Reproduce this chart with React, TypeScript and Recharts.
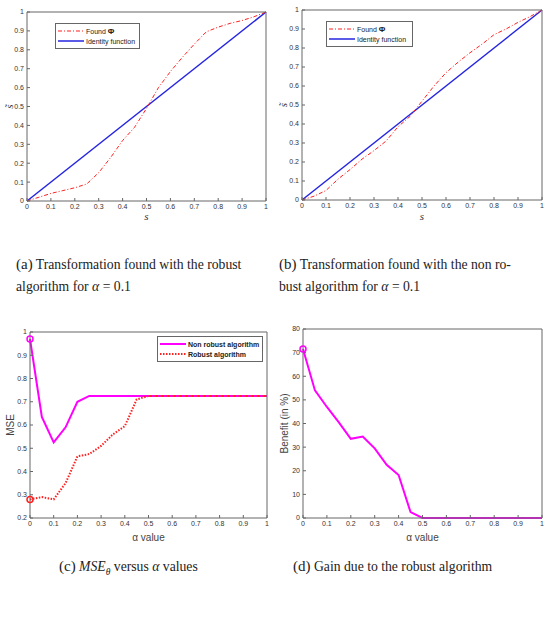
import { LineChart, Line, XAxis, YAxis } from 'recharts';

// shared tick values
const unitTicks = [0, 0.1, 0.2, 0.3, 0.4, 0.5, 0.6, 0.7, 0.8, 0.9, 1];
const mseTicks = [0.2, 0.3, 0.4, 0.5, 0.6, 0.7, 0.8, 0.9, 1];
const benefitTicks = [0, 10, 20, 30, 40, 50, 60, 70, 80];

// (a) / (b) transformation curves, s sampled every 0.05
const sValues = [0, 0.05, 0.1, 0.15, 0.2, 0.25, 0.3, 0.35, 0.4, 0.45, 0.5, 0.55, 0.6, 0.65, 0.7, 0.75, 0.8, 0.85, 0.9, 0.95, 1];
const foundPhiRobust = [0, 0.02, 0.04, 0.055, 0.07, 0.09, 0.15, 0.23, 0.32, 0.39, 0.49, 0.6, 0.685, 0.76, 0.83, 0.895, 0.92, 0.94, 0.955, 0.975, 1];
const foundPhiNonRobust = [0, 0.02, 0.05, 0.11, 0.16, 0.215, 0.26, 0.31, 0.385, 0.44, 0.52, 0.6, 0.67, 0.725, 0.775, 0.82, 0.87, 0.9, 0.935, 0.965, 1];
const identityS = [0, 1];

// (c) / (d) versus alpha
const alphaValues = [0, 0.05, 0.1, 0.15, 0.2, 0.25, 0.3, 0.35, 0.4, 0.45, 0.5, 0.55, 0.6, 0.65, 0.7, 0.75, 0.8, 0.85, 0.9, 0.95, 1];
const mseNonRobust = [0.97, 0.635, 0.525, 0.59, 0.7, 0.725, 0.725, 0.725, 0.725, 0.725, 0.725, 0.725, 0.725, 0.725, 0.725, 0.725, 0.725, 0.725, 0.725, 0.725, 0.725];
const mseRobust = [0.28, 0.29, 0.28, 0.35, 0.465, 0.475, 0.51, 0.56, 0.595, 0.71, 0.725, 0.725, 0.725, 0.725, 0.725, 0.725, 0.725, 0.725, 0.725, 0.725, 0.725];
const benefit = [71.5, 54, 47, 40.5, 33.5, 34.5, 29.5, 22.5, 18.2, 2.5, 0, 0, 0, 0, 0, 0, 0, 0, 0, 0, 0];

const toPoints = (xs: number[], ys: number[]) => xs.map((x, i) => ({ x, y: ys[i] }));

const phiA = toPoints(sValues, foundPhiRobust);
const phiB = toPoints(sValues, foundPhiNonRobust);
const identity = toPoints(identityS, identityS);
const nonRobustPts = toPoints(alphaValues, mseNonRobust);
const robustPts = toPoints(alphaValues, mseRobust);
const benefitPts = toPoints(alphaValues, benefit);

const SANS = '"Liberation Sans", Arial, sans-serif';
const SERIF = '"Liberation Serif", "Times New Roman", serif';
const FRAME = '#666';
const TICK = { fontSize: 7, fill: '#333', fontFamily: SANS };
const RED = '#ff2020';
const BLUE = '#2424e0';
const MAGENTA = '#ff00ff';

const fmt = (v: number) => String(v);

// matlab style box: ticks pointing inward on all four sides
function frame(yDomain: [number, number], yTicks: number[], yWidth: number, xHeight: number, xLabel: any, yLabel: any) {
  return [
    <XAxis
      key="xb"
      type="number"
      dataKey="x"
      domain={[0, 1]}
      ticks={unitTicks}
      tickFormatter={fmt}
      interval={0}
      tick={TICK}
      tickSize={-3}
      tickMargin={6}
      height={xHeight}
      stroke={FRAME}
      label={xLabel}
    />,
    <XAxis
      key="xt"
      xAxisId="top"
      orientation="top"
      type="number"
      dataKey="x"
      domain={[0, 1]}
      ticks={unitTicks}
      interval={0}
      tick={false}
      tickSize={-3}
      height={1}
      stroke={FRAME}
    />,
    <YAxis
      key="yl"
      type="number"
      domain={yDomain}
      ticks={yTicks}
      tickFormatter={fmt}
      interval={0}
      tick={TICK}
      tickSize={-3}
      tickMargin={6}
      width={yWidth}
      stroke={FRAME}
      label={yLabel}
    />,
    <YAxis
      key="yr"
      yAxisId="right"
      orientation="right"
      type="number"
      domain={yDomain}
      ticks={yTicks}
      interval={0}
      tick={false}
      tickSize={-3}
      width={1}
      stroke={FRAME}
    />,
  ];
}

const firstDot = (color: string) => (props: any) =>
  props.index === 0 ? (
    <circle key="d0" cx={props.cx} cy={props.cy} r={3} fill="none" stroke={color} strokeWidth={1.5} />
  ) : (
    <g key={`d${props.index}`} />
  );

function LegendBox({ left, top, width, items, bold }: { left: number; top: number; width: number; items: { label: any; color: string; dash?: string; w: number }[]; bold?: boolean }) {
  return (
    <div
      style={{
        position: 'absolute',
        left,
        top,
        width,
        border: `1px solid ${FRAME}`,
        background: '#fff',
        padding: '2px 0',
        fontFamily: SANS,
        fontSize: 7,
        fontWeight: bold ? 700 : 400,
        color: '#222',
      }}
    >
      {items.map((it, i) => (
        <div key={i} style={{ display: 'flex', alignItems: 'center', height: 10 }}>
          <svg width={26} height={10} style={{ marginLeft: 2, marginRight: 2 }}>
            <line x1={0} y1={5} x2={26} y2={5} stroke={it.color} strokeWidth={it.w} strokeDasharray={it.dash} />
          </svg>
          <span>{it.label}</span>
        </div>
      ))}
    </div>
  );
}

const sLabel = { value: 's', position: 'insideBottom', offset: 6, style: { fontFamily: SERIF, fontStyle: 'italic', fontSize: 11, fill: '#333' } };
const sTildeLabelA = { value: 's̃', angle: -90, position: 'insideLeft', offset: 9, style: { fontFamily: SERIF, fontStyle: 'italic', fontSize: 11, fill: '#333', textAnchor: 'middle' } };
const sTildeLabelB = { ...sTildeLabelA, offset: 10 };
const alphaLabel = { value: 'α value', position: 'insideBottom', offset: 9, style: { fontFamily: SANS, fontSize: 10, fill: '#444' } };
const mseLabel = { value: 'MSE', angle: -90, position: 'insideLeft', offset: 10, style: { fontFamily: SANS, fontSize: 10, fill: '#444', textAnchor: 'middle' } };
const benefitLabel = { value: 'Benefit (in %)', angle: -90, position: 'insideLeft', offset: 11, style: { fontFamily: SANS, fontSize: 10, fill: '#444', textAnchor: 'middle' } };

const captionStyle: any = {
  position: 'absolute',
  fontFamily: SERIF,
  fontSize: 13.7,
  lineHeight: '22px',
  color: '#222',
  whiteSpace: 'nowrap',
};

export default function App() {
  return (
    <div style={{ position: 'absolute', left: 0, top: 0, width: 546, height: 621, background: '#fff' }}>
      {/* (a) */}
      <div style={{ position: 'absolute', left: 0, top: 0 }}>
        <LineChart width={273} height={226} margin={{ top: 11, right: 6, bottom: 0, left: 0 }}>
          {frame([0, 1], unitTicks, 27, 25, sLabel, sTildeLabelA)}
          <Line data={identity} dataKey="y" stroke={BLUE} strokeWidth={1.5} dot={false} isAnimationActive={false} />
          <Line data={phiA} dataKey="y" stroke={RED} strokeWidth={1} strokeDasharray="4 2 1 2" dot={false} isAnimationActive={false} />
        </LineChart>
      </div>
      <LegendBox
        left={55}
        top={23}
        width={83}
        items={[
          { label: <>Found <b style={{ fontSize: 8 }}>Φ</b></>, color: RED, dash: '4 2 1 2', w: 1 },
          { label: 'Identity function', color: BLUE, w: 1.5 },
        ]}
      />

      {/* (b) */}
      <div style={{ position: 'absolute', left: 273, top: 0 }}>
        <LineChart width={273} height={226} margin={{ top: 9, right: 3, bottom: 0, left: 0 }}>
          {frame([0, 1], unitTicks, 29, 26, sLabel, sTildeLabelB)}
          <Line data={identity} dataKey="y" stroke={BLUE} strokeWidth={1.5} dot={false} isAnimationActive={false} />
          <Line data={phiB} dataKey="y" stroke={RED} strokeWidth={1} strokeDasharray="4 2 1 2" dot={false} isAnimationActive={false} />
        </LineChart>
      </div>
      <LegendBox
        left={326}
        top={21}
        width={85}
        items={[
          { label: <>Found <b style={{ fontSize: 8 }}>Φ</b></>, color: RED, dash: '4 2 1 2', w: 1 },
          { label: 'Identity function', color: BLUE, w: 1.5 },
        ]}
      />

      <div style={{ ...captionStyle, left: 16, top: 253 }}>
        <span style={{ fontSize: 15 }}>(a)</span> Transformation found with the robust
        <br />
        algorithm for <i>α</i> = 0.1
      </div>
      <div style={{ ...captionStyle, left: 279, top: 253 }}>
        <span style={{ fontSize: 15 }}>(b)</span> Transformation found with the non ro-
        <br />
        bust algorithm for <i>α</i> = 0.1
      </div>

      {/* (c) */}
      <div style={{ position: 'absolute', left: 0, top: 320 }}>
        <LineChart width={273} height={230} margin={{ top: 11, right: 5, bottom: 0, left: 0 }}>
          {frame([0.2, 1], mseTicks, 30, 32, alphaLabel, mseLabel)}
          <Line data={nonRobustPts} dataKey="y" stroke={MAGENTA} strokeWidth={2} dot={firstDot(MAGENTA)} isAnimationActive={false} />
          <Line data={robustPts} dataKey="y" stroke={RED} strokeWidth={2} strokeDasharray="1.5 1.5" dot={firstDot(RED)} isAnimationActive={false} />
        </LineChart>
      </div>
      <LegendBox
        left={157}
        top={336}
        width={104}
        bold
        items={[
          { label: 'Non robust algorithm', color: MAGENTA, w: 2 },
          { label: 'Robust algorithm', color: RED, dash: '1.5 1.5', w: 2 },
        ]}
      />

      {/* (d) */}
      <div style={{ position: 'absolute', left: 273, top: 320 }}>
        <LineChart width={273} height={230} margin={{ top: 8, right: 3, bottom: 0, left: 0 }}>
          {frame([0, 80], benefitTicks, 30, 32, alphaLabel, benefitLabel)}
          <Line data={benefitPts} dataKey="y" stroke={MAGENTA} strokeWidth={2} dot={firstDot(MAGENTA)} isAnimationActive={false} />
        </LineChart>
      </div>

      <div style={{ ...captionStyle, left: 59, top: 555 }}>
        <span style={{ fontSize: 15 }}>(c)</span> <i>MSE</i>
        <sub style={{ fontSize: 9.5 }}>
          <i>θ</i>
        </sub>{' '}
        versus <i>α</i> values
      </div>
      <div style={{ ...captionStyle, left: 293, top: 555 }}>
        <span style={{ fontSize: 15 }}>(d)</span> Gain due to the robust algorithm
      </div>
    </div>
  );
}
